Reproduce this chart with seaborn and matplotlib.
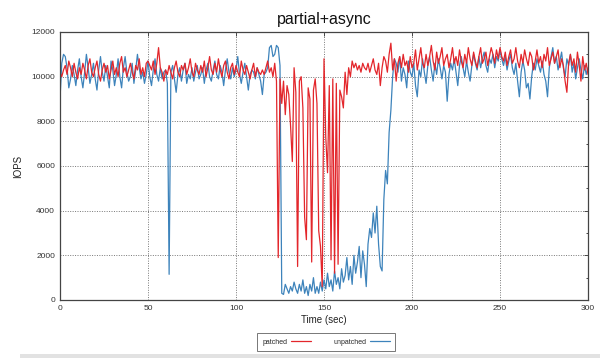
import numpy as np
import pandas as pd
import matplotlib
matplotlib.use("Agg")
import matplotlib.pyplot as plt
from matplotlib.lines import Line2D
from matplotlib.patches import Rectangle
from matplotlib.ticker import MultipleLocator
import seaborn as sns

title = "partial+async"
series_names = ["patched", "unpatched"]
x_ticks = [0, 50, 100, 150, 200, 250, 300]
y_ticks = [0, 2000, 4000, 6000, 8000, 10000, 12000]

# IOPS per second, t = 0..300
patched = [
    10200, 10000, 10300, 10500, 10100, 10700, 10400, 10000, 10600, 10200,
    9900, 10400, 10100, 10600, 10300, 9900, 10500, 10800, 10200, 10000,
    10400, 10700, 10100, 9800, 10300, 10600, 10200, 10500, 9900, 10300,
    10700, 10100, 10400, 10000, 10600, 10900, 10200, 10400, 10000, 10300,
    10600, 10200, 9900, 10500, 10300, 10800, 10100, 10400, 10000, 10600,
    10700, 10500, 10300, 10700, 10100, 10600, 11300, 10400, 10200, 9800,
    10300, 10100, 10500, 10200, 9900, 10400, 10700, 10200, 10000, 10500,
    10300, 10600, 10100, 10400, 10800, 10200, 10000, 10600, 10300, 10100,
    10500, 10200, 10700, 10000, 10400, 10900, 10300, 10100, 10600, 10200,
    10800, 10300, 10000, 10500, 10700, 10200, 9900, 10400, 10600, 10100,
    10500, 10200, 10000, 10700, 10300, 10100, 10500, 10200, 9900, 10300,
    10600, 10000, 10400, 10200, 10100, 10300, 10100, 10400, 10700, 10200,
    10400, 10000, 10600, 9800, 1900, 9900, 8800, 9800, 8300, 9600,
    9200, 7800, 6200, 10400, 9300, 1500, 9800, 10000, 8600, 3700,
    2700, 9500, 9000, 1700, 9400, 9900, 8800, 3100, 2400, 600,
    10800, 7300, 5700, 9600, 1800, 9900, 1200, 9700, 1600, 9400,
    9100, 8600, 10200, 9200, 10400, 10000, 10700, 10400, 10600, 10300,
    10500, 10200, 10600, 10400, 10300, 10600, 10200, 10500, 10800, 10300,
    10100, 10600, 9600, 10400, 10900, 10700, 10200, 11000, 11500, 10300,
    10800, 9800, 10600, 10900, 10400, 11000, 10500, 10700, 10200, 10900,
    10400, 10600, 11200, 10300, 10800, 11300, 10600, 10400, 11000, 10500,
    10900, 11400, 10700, 10300, 11100, 10600, 10900, 11300, 10500, 10800,
    11000, 10400, 10800, 11300, 10600, 10900, 10500, 11200, 10700, 10400,
    11000, 10600, 11300, 10800, 10500, 11100, 10700, 10400, 10900, 11300,
    10600, 10800, 11100, 10500, 10900, 11300, 11000, 10600, 11200, 10800,
    11300, 10900, 10700, 11100, 10500, 10900, 11200, 10600, 10800, 11300,
    10700, 10400, 11000, 10600, 11200, 10800, 10500, 11100, 10900, 10300,
    10700, 11200, 10600, 10900, 10400, 11000, 10700, 11300, 10500, 10800,
    11100, 10600, 10900, 11200, 10400, 10800, 10500, 9800, 9300, 10600,
    11000, 10500, 10800, 10200, 11100, 10500, 9800, 10900, 10300, 10600,
    10100,
]

unpatched = [
    9000, 10600, 11000, 10900, 10400, 9500, 9900, 10500, 10100, 9600,
    10300, 10800, 10000, 9500, 10200, 11000, 10400, 9700, 10100, 10600,
    9900, 9400, 10300, 10900, 10200, 9800, 10500, 10000, 9500, 10700,
    10300, 9600, 10100, 10800, 10000, 9500, 10400, 10900, 10200, 9800,
    10000, 10600, 9700, 10300, 11000, 10400, 9900, 10200, 9700, 10100,
    10700, 10000, 9600, 10300, 10800, 10100, 9800, 10400, 9900, 10200,
    10300, 9700, 1150, 10200, 10500, 9900, 9300, 10100, 10400, 9800,
    10300, 10600, 9700, 10100, 9900, 10400, 9800, 10200, 10500, 9900,
    10100, 10400, 9700, 10300, 10600, 10000, 9800, 10300, 10700, 10100,
    9900, 10500, 10200, 9600, 10300, 10800, 10200, 9900, 10400, 10000,
    10300, 10900, 10100, 9700, 10200, 10600, 10000, 9400, 10100, 10300,
    10200, 9900, 10400, 10100, 9800, 9200, 10100, 10200, 10400, 11300,
    11400, 10900, 11000, 11400, 11300, 10500, 300, 250, 700, 500,
    300, 600, 400, 800, 500, 300, 700, 400, 900, 300,
    600, 200, 700, 400, 1000, 300, 600, 300, 800, 400,
    900, 500, 1200, 600, 900, 400, 1300, 700, 1000, 500,
    1400, 800, 1100, 1900, 900, 1500, 700, 2000, 1200, 1700,
    2400, 1000, 2200, 1600, 600, 2500, 3200, 2800, 3900, 3000,
    4200, 2500, 1500, 1300, 4500, 5800, 5200, 7500, 8500, 10000,
    10800, 10600, 10200, 10900, 9800, 10400, 10100, 9500, 10700, 10200,
    10000, 10600, 9600, 9100, 10300, 10000, 10800, 10200, 9700, 10500,
    10900, 10300, 9800, 10600, 10100, 10800, 10400, 9900, 10500, 10200,
    8900, 10100, 10600, 10300, 10800, 10200, 9600, 10500, 10900, 10400,
    10000, 10700, 10200, 9800, 10500, 11000, 10600, 10300, 10900, 10400,
    10800, 11100, 10500, 10200, 10800, 10600, 11000, 10400, 10900, 10700,
    11200, 10800, 10500, 10900, 10300, 10700, 11000, 10400, 10100, 10600,
    9800, 9100, 10200, 10700, 10300, 9500, 9700, 9000, 10000, 10600,
    10300, 10800, 10500, 10200, 10700, 10100, 9800, 9100, 10400, 10900,
    11300, 10600, 10900, 10300, 10700, 11100, 10400, 10000, 10800, 10500,
    11000, 10200, 10600, 9900, 10400, 10800, 10300, 9900, 10500, 10100,
    10400,
]

t = list(range(len(patched)))
df = pd.DataFrame({
    "Time (sec)": t + t,
    "IOPS": unpatched + patched,
    "series": ["unpatched"] * len(unpatched) + ["patched"] * len(patched),
})

colors = {"patched": "#e3262b", "unpatched": "#3d83bb"}

sns.set_style("white")
plt.rcParams["font.family"] = ["Liberation Sans", "DejaVu Sans"]

fig = plt.figure(figsize=(6.08, 3.62), dpi=100)
ax = fig.add_axes([60 / 608, 1 - 300 / 362, 528 / 608, 268 / 362])

sns.lineplot(data=df, x="Time (sec)", y="IOPS", hue="series",
             hue_order=["unpatched", "patched"], palette=colors,
             linewidth=0.9, ax=ax, legend=False, estimator=None)

ax.set_xlim(0, 300)
ax.set_ylim(0, 12000)
ax.set_xticks(x_ticks)
ax.set_yticks(y_ticks)
ax.yaxis.set_minor_locator(MultipleLocator(1000))
ax.tick_params(axis="both", which="major", direction="in", length=3,
               labelsize=6, colors="#333333", top=True, right=True, width=0.6)
ax.tick_params(axis="y", which="minor", direction="in", length=1.5,
               right=True, width=0.6)
ax.grid(True, which="major", linestyle=(0, (1, 1.5)), color="#777777",
        linewidth=0.7)
for s in ax.spines.values():
    s.set_color("#444444")
    s.set_linewidth(0.9)

ax.set_title(title, fontsize=11.5, pad=6, color="#111111")
ax.set_xlabel("Time (sec)", fontsize=7, labelpad=2, color="#222222")
ax.set_ylabel("IOPS", fontsize=7, labelpad=6, color="#222222")

handles = [Line2D([], [], color=colors[n], lw=0.9) for n in series_names]
leg = fig.legend(handles, series_names, loc="center",
                 bbox_to_anchor=(326 / 608, 1 - 342 / 362), ncol=2,
                 markerfirst=False, fontsize=5, frameon=True, fancybox=False,
                 handlelength=2.8, columnspacing=3.2, borderpad=0.8,
                 handletextpad=0.6)
leg.get_frame().set_edgecolor("#555555")
leg.get_frame().set_linewidth(0.7)

fig.patches.append(Rectangle((20 / 608, 1 - 358 / 362), 580 / 608, 4 / 362,
                             transform=fig.transFigure, facecolor="#e2e2e2",
                             edgecolor="none"))

fig.savefig("out.png", dpi=100, facecolor="white")
